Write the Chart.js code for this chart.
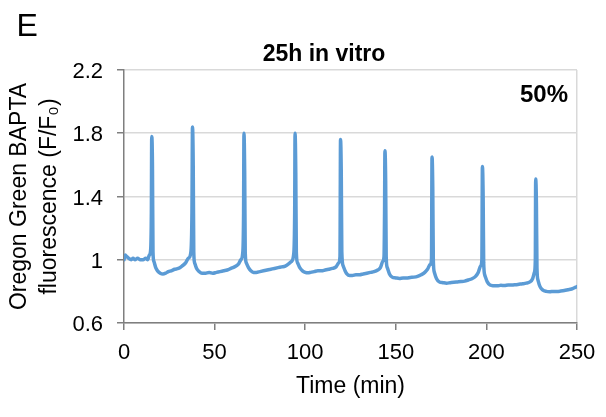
<!DOCTYPE html>
<html>
<head>
<meta charset="utf-8">
<script src="https://cdn.jsdelivr.net/npm/chart.js@4/dist/chart.umd.min.js"></script>
<style>
  html, body { margin: 0; padding: 0; background: #fff; }
  #wrap { width: 606px; height: 417px; position: relative; }
</style>
</head>
<body>
<div id="wrap"><canvas id="c" width="606" height="417"></canvas></div>
<script>
// Calcium trace: time (min) and Oregon Green BAPTA fluorescence ratio (F/F0)
const timeMin = [
  0, 0.7, 1.5, 2.5, 4, 5, 6, 7.5, 9, 10.5, 12, 13, 14, 14.7, 15.1, 15.3, 15.7, 16.0, 16.5, 17.5, 18.5, 20, 21.5, 23, 24.5, 26, 28, 30, 32, 34, 35.5,
  36.8, 37.5, 37.8, 38.2, 38.5, 39, 40, 41.5, 43, 45, 47, 49, 51, 53, 55, 57, 59, 61, 63, 64.5,
  65.5, 66.0, 66.2, 66.6, 66.9, 67.5, 68.7, 70, 71.5, 73, 75, 77, 79, 81, 83, 85, 87, 89, 91, 92.5,
  93.6, 94.2, 94.4, 94.8, 95.1, 95.8, 97, 98.5, 100, 101.5, 103, 105, 107, 109, 111, 113, 115, 117, 118.5,
  119.2, 119.5, 119.9, 120.2, 121, 122, 123, 124.5, 126, 128, 130, 132, 134, 136, 138, 140, 141.5, 142.8,
  143.5, 143.8, 144.0, 144.4, 144.7, 145.3, 146.5, 148, 150, 152, 154, 156, 158, 160, 162, 164, 166, 167.5, 169,
  169.7, 170.0, 170.4, 170.7, 171.3, 172.5, 174, 176, 178, 180, 182, 184, 186, 188, 190, 192, 194, 195.5, 196.8,
  197.5, 197.8, 198.2, 198.5, 199.2, 200.5, 202, 204, 206, 208, 210, 212, 214, 216, 218, 220, 222, 224, 225.5, 226.5,
  227.0, 227.2, 227.6, 227.9, 228.5, 229.6, 231, 233, 235, 237, 239, 241, 243, 245, 247, 249, 250
];
const fluorescence = [
  1.00, 1.03, 1.02, 1.01, 1.00, 1.01, 1.00, 1.01, 1.00, 1.00, 1.01, 1.00, 1.03, 1.06, 1.30, 1.78, 1.60, 1.05, 0.99, 0.95, 0.93, 0.915, 0.91, 0.915, 0.925, 0.93, 0.94, 0.945, 0.96, 0.98, 1.01,
  1.04, 1.30, 1.84, 1.60, 1.05, 0.98, 0.946, 0.925, 0.914, 0.915, 0.92, 0.915, 0.92, 0.925, 0.93, 0.935, 0.945, 0.955, 0.97, 1.00,
  1.04, 1.30, 1.80, 1.55, 1.05, 0.98, 0.95, 0.93, 0.92, 0.92, 0.925, 0.93, 0.935, 0.94, 0.945, 0.95, 0.955, 0.96, 0.975, 0.99,
  1.03, 1.30, 1.80, 1.55, 1.05, 0.98, 0.95, 0.93, 0.92, 0.917, 0.92, 0.925, 0.93, 0.93, 0.935, 0.94, 0.945, 0.955, 0.98,
  1.02, 1.76, 1.55, 1.05, 0.96, 0.93, 0.91, 0.90, 0.90, 0.905, 0.905, 0.91, 0.915, 0.92, 0.925, 0.935, 0.95, 0.99,
  1.02, 1.30, 1.69, 1.50, 1.02, 0.95, 0.91, 0.89, 0.885, 0.882, 0.885, 0.885, 0.888, 0.89, 0.895, 0.905, 0.92, 0.94, 0.97,
  1.00, 1.65, 1.45, 1.00, 0.92, 0.88, 0.86, 0.855, 0.852, 0.855, 0.858, 0.86, 0.862, 0.865, 0.872, 0.88, 0.895, 0.92, 0.96,
  1.00, 1.59, 1.40, 0.98, 0.90, 0.86, 0.84, 0.836, 0.835, 0.838, 0.837, 0.84, 0.84, 0.842, 0.845, 0.848, 0.852, 0.86, 0.88, 0.92,
  1.00, 1.51, 1.35, 0.95, 0.87, 0.83, 0.81, 0.80, 0.798, 0.80, 0.80, 0.802, 0.805, 0.81, 0.815, 0.825, 0.83
];
const xTicks = [0, 50, 100, 150, 200, 250];
const yTicks = [0.6, 1.0, 1.4, 1.8, 2.2];

const panelLabel = 'E';
const chartTitle = '25h in vitro';
const cornerNote = '50%';
const xTitle = 'Time (min)';
const yTitle = ['Oregon Green BAPTA', 'fluorescence (F/F\u2080)'];

const FONT = "'Liberation Sans', Arial, Helvetica, sans-serif";
const AXIS_DARK = '#7f7f7f';
const GRID_LIGHT = '#d9d9d9';

const points = timeMin.map((t, i) => ({ x: t, y: fluorescence[i] }));

// Panel letter, chart heading and the percentage note
const annotations = {
  id: 'annotations',
  afterDraw(chart) {
    const ctx = chart.ctx;
    ctx.save();
    ctx.fillStyle = '#000';
    ctx.textBaseline = 'alphabetic';
    ctx.textAlign = 'left';
    ctx.font = `32px ${FONT}`;
    ctx.fillText(panelLabel, 16.5, 35.7);
    ctx.textAlign = 'center';
    ctx.font = `bold 23px ${FONT}`;
    ctx.fillText(chartTitle, 324, 60.7);
    ctx.textAlign = 'right';
    ctx.font = `bold 24px ${FONT}`;
    ctx.fillText(cornerNote, 568, 101.5);
    ctx.restore();
  }
};

new Chart(document.getElementById('c'), {
  type: 'line',
  data: {
    datasets: [{
      data: points,
      borderColor: '#5b9bd5',
      borderWidth: 3.5,
      pointRadius: 0,
      cubicInterpolationMode: 'monotone',
      borderJoinStyle: 'round',
      borderCapStyle: 'round',
      fill: false
    }]
  },
  options: {
    responsive: false,
    animation: false,
    devicePixelRatio: 1,
    layout: { padding: { top: 70, right: 29, left: 0, bottom: 0 } },
    plugins: {
      legend: { display: false },
      title: { display: false },
      tooltip: { enabled: false }
    },
    scales: {
      x: {
        type: 'linear',
        min: 0,
        max: 250,
        afterBuildTicks(scale) { scale.ticks = xTicks.map(v => ({ value: v })); },
        afterFit(scale) { scale.height = 94; },
        ticks: {
          color: '#000',
          font: { family: FONT, size: 22 },
          padding: 10,
          maxRotation: 0
        },
        grid: {
          color: ctx => (ctx.tick && ctx.tick.value === 250 ? GRID_LIGHT : 'rgba(0,0,0,0)'),
          tickColor: AXIS_DARK,
          tickLength: 7,
          lineWidth: 1.5
        },
        border: { color: AXIS_DARK, width: 1.5 },
        title: {
          display: true,
          text: xTitle,
          color: '#000',
          font: { family: FONT, size: 23 },
          padding: { top: 0, bottom: 16.5 }
        }
      },
      y: {
        type: 'linear',
        min: 0.6,
        max: 2.2,
        afterBuildTicks(scale) { scale.ticks = yTicks.map(v => ({ value: v })); },
        afterFit(scale) { scale.width = 124; },
        ticks: {
          color: '#000',
          font: { family: FONT, size: 22 },
          padding: 14,
          labelOffset: 2,
          callback: v => (Math.abs(v - 1) < 1e-9 ? '1' : v.toFixed(1))
        },
        grid: {
          color: GRID_LIGHT,
          tickColor: AXIS_DARK,
          tickLength: 7,
          lineWidth: 1.5
        },
        border: { color: AXIS_DARK, width: 1.5 },
        title: {
          display: true,
          text: yTitle,
          color: '#000',
          font: { family: FONT, size: 23, lineHeight: 1.3 },
          padding: { top: 5, bottom: 0 }
        }
      }
    }
  },
  plugins: [annotations]
});
</script>
</body>
</html>
